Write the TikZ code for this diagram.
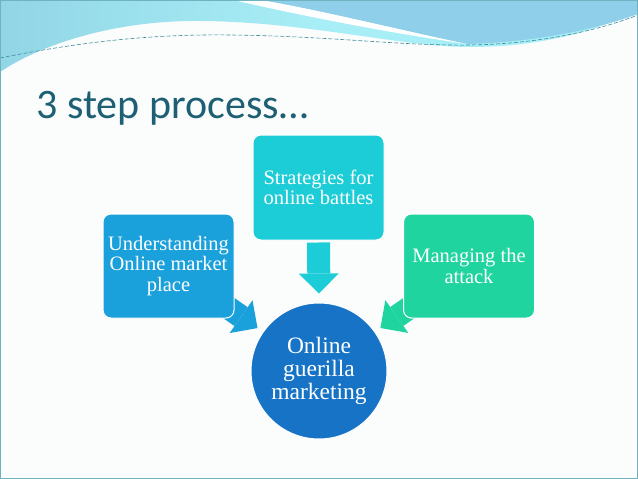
\documentclass[tikz,border=0pt]{standalone}
\usepackage{fontspec}
\setmainfont{Liberation Serif}
\newfontfamily\titlefont{Carlito}
\usetikzlibrary{arrows.meta}
\definecolor{paper}{HTML}{FBFCFC}
\definecolor{frame}{HTML}{6FB3C2}
\definecolor{waveL}{HTML}{92D6E6}
\definecolor{waveC}{HTML}{A8EEF6}
\definecolor{waveB}{HTML}{8FCFEA}
\definecolor{dashline}{HTML}{3F8C9C}
\definecolor{titleteal}{HTML}{1D5F73}
\definecolor{boxblue}{HTML}{1AA0DB}
\definecolor{boxcyan}{HTML}{1CCDD8}
\definecolor{boxgreen}{HTML}{20D4A0}
\definecolor{hubblue}{HTML}{1673C6}

\pgfdeclarelayer{bg}
\pgfdeclarelayer{arrows}
\pgfsetlayers{bg,arrows,main}

\begin{document}
\begin{tikzpicture}[x=1pt,y=-1pt,
  stepbox/.style={draw=white,line width=1pt,rounded corners=8pt,minimum width=131pt,
    minimum height=104pt,align=center,text=white,font=\fontsize{20.5}{20.5}\selectfont},
  blockarrow/.style={line width=23pt,-{Triangle[length=20pt,width=40pt,line width=0pt]}}]
  \useasboundingbox (0,0) rectangle (638,479);
  \begin{pgfonlayer}{bg}
    \fill[paper] (0,0) rectangle (638,479);
    \shade[left color=waveL,right color=waveC,middle color=waveC]
      (0,0) -- (638,0) -- (638,10) .. controls (590,35) and (530,47) .. (470,47)
      .. controls (400,47) and (300,20) .. (190,21) .. controls (110,22) and (40,45) .. (0,72) -- cycle;
    \fill[white] (233,0) .. controls (330,22) and (410,36) .. (468,44)
      .. controls (400,30) and (330,12) .. (262,0) -- cycle;
    \fill[waveB] (262,0) .. controls (330,12) and (400,30) .. (468,44)
      .. controls (540,42) and (600,28) .. (638,14) -- (638,0) -- cycle;
    \draw[dashline,line width=0.6pt,dash pattern=on 4pt off 2pt]
      (0,58) .. controls (80,42) and (150,34) .. (230,35)
      .. controls (330,36) and (400,46) .. (470,45) .. controls (540,44) and (600,30) .. (638,15);
    \draw[frame,line width=1pt] (0.5,0.5) rectangle (637.5,478.5);
  \end{pgfonlayer}

  \node[anchor=base west,text=titleteal,font=\titlefont\fontsize{42}{44}\selectfont] (title) at (33,118) {3 step process…};

  \node[stepbox,fill=boxblue] (underst) at (168.5,266) {Understanding\\Online market\\place};
  \node[stepbox,fill=boxcyan,minimum height=105pt] (strat) at (318.5,187.5) {Strategies for\\online battles};
  \node[stepbox,fill=boxgreen] (manage) at (469,266) {Managing the\\attack};
  \node[circle,draw=white,line width=1pt,fill=hubblue,minimum size=136pt,align=center,text=white,
    font=\fontsize{23.5}{23}\selectfont] (hub) at (319,371) {Online\\guerilla\\marketing};

  \begin{pgfonlayer}{arrows}
    \draw[blockarrow,boxblue,shorten >=75pt] (underst.center) -- (hub.center);
    \draw[blockarrow,boxcyan,shorten <=2pt,shorten >=9pt] (strat.south) -- (hub.north);
    \draw[blockarrow,boxgreen,shorten >=75pt] (manage.center) -- (hub.center);
  \end{pgfonlayer}
\end{tikzpicture}
\end{document}
